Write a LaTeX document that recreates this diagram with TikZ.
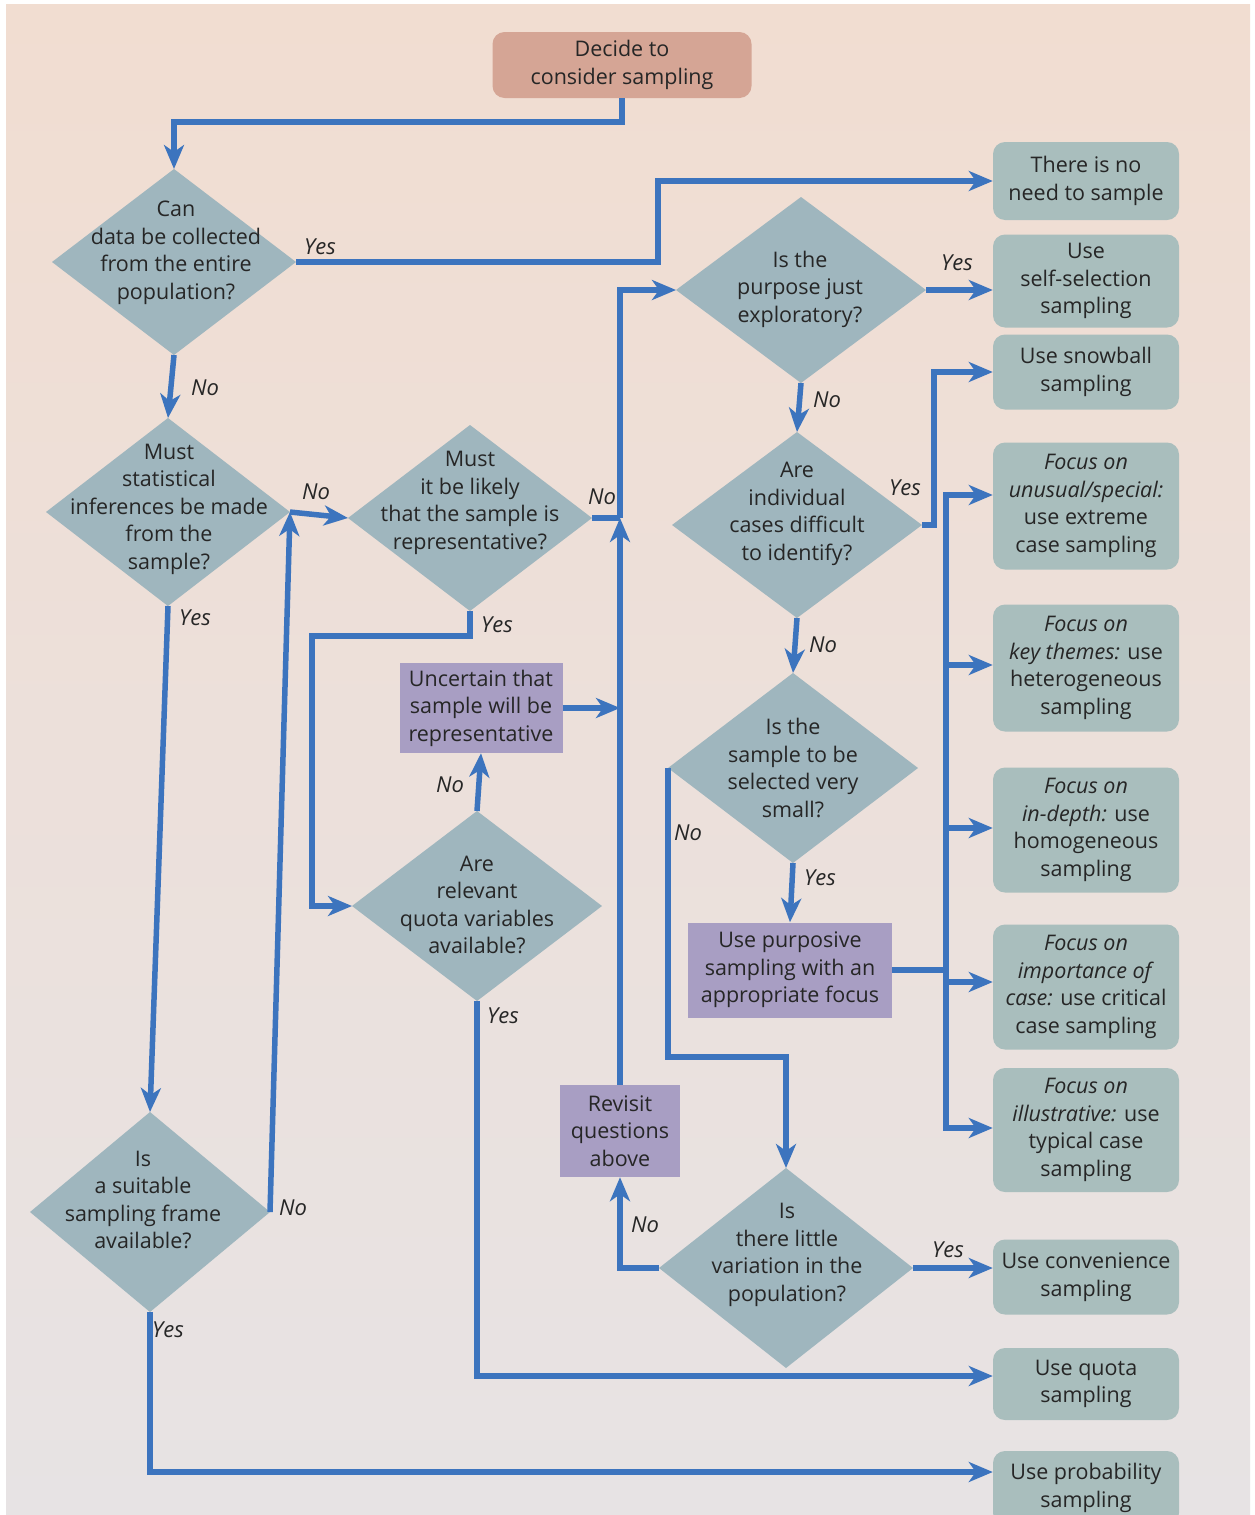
\documentclass[tikz,border=0pt]{standalone}
\usepackage{fontspec}
\setmainfont{Open Sans}
\usetikzlibrary{shapes.geometric,arrows.meta,calc}
\definecolor{bgtop}{HTML}{F1DDD1}
\definecolor{bgmid}{HTML}{EEDADC}
\definecolor{bgbot}{HTML}{E7E3E4}
\definecolor{diac}{HTML}{9FB6BE}
\definecolor{boxc}{HTML}{A9BEBD}
\definecolor{purc}{HTML}{A89EC3}
\definecolor{startc}{HTML}{D5A595}
\definecolor{linec}{HTML}{3C74BE}
\definecolor{txtc}{HTML}{262626}
\begin{document}
\begin{tikzpicture}[x=1pt,y=-1pt,
 txt/.style={font=\fontsize{21.5}{27.5}\selectfont, text=txtc, align=center, inner sep=0pt},
 lab/.style={font=\fontsize{22}{24}\selectfont\itshape, text=txtc, inner sep=0pt},
 dia/.style={shape=diamond, fill=diac, inner sep=0pt, outer sep=0pt},
 rbox/.style={txt, fill=boxc, rounded corners=12pt, minimum width=186pt},
 pbox/.style={txt, fill=purc},
 conn/.style={draw=linec, line width=5.5pt},
 arr/.style={conn, -{Stealth[length=24pt,width=20pt,inset=7pt]}},
]
\useasboundingbox (0,0) rectangle (1254,1515);
\clip (0,0) rectangle (1254,1515);
\fill[white] (0,0) rectangle (1254,1515);
\shade[top color=bgtop, middle color=bgmid, bottom color=bgbot] (6,4) rectangle (1250,1515);

% start
\node[txt, fill=startc, rounded corners=12pt, minimum width=259pt, minimum height=66pt] (start) at (622,65) {Decide to\\consider sampling};

% diamonds
\node[dia, minimum width=244pt, minimum height=186pt] (d1) at (174,262) {};
\node[txt] (d1t) at (176,253) {Can\\data be collected\\from the entire\\population?};
\node[dia, minimum width=244pt, minimum height=188pt] (d2) at (168,512) {};
\node[txt] (d2t) at (169,509) {Must\\statistical\\inferences be made\\from the\\sample?};
\node[dia, minimum width=244pt, minimum height=186pt] (d3) at (470,518) {};
\node[txt] (d3t) at (470,503) {Must\\it be likely\\that the sample is\\representative?};
\node[dia, minimum width=250pt, minimum height=190pt] (d4) at (477,906) {};
\node[txt] (d4t) at (477,905) {Are\\relevant\\quota variables\\available?};
\node[dia, minimum width=240pt, minimum height=200pt] (d5) at (150,1212) {};
\node[txt] (d5t) at (143,1200) {Is\\a suitable\\sampling frame\\available?};
\node[dia, minimum width=250pt, minimum height=186pt] (d6) at (801,290) {};
\node[txt] (d6t) at (800,289) {Is the\\purpose just\\exploratory?};
\node[dia, minimum width=250pt, minimum height=186pt] (d7) at (797,525) {};
\node[txt] (d7t) at (797,514) {Are\\individual\\cases difficult\\to identify?};
\node[dia, minimum width=250pt, minimum height=190pt] (d8) at (793,768) {};
\node[txt] (d8t) at (793,768) {Is the\\sample to be\\selected very\\small?};
\node[dia, minimum width=254pt, minimum height=200pt] (d9) at (786,1268) {};
\node[txt] (d9t) at (787,1255) {Is\\there little\\variation in the\\population?};

% purple boxes
\node[pbox, minimum width=163pt, minimum height=90pt] (unc) at (481,708) {Uncertain that\\sample will be\\representative};
\node[pbox, minimum width=120pt, minimum height=92pt] (rev) at (620,1131) {Revisit\\questions\\above};
\node[pbox, minimum width=204pt, minimum height=95pt] (purp) at (790,970) {Use purposive\\sampling with an\\appropriate focus};

% result boxes
\node[rbox, minimum height=78pt] (b1) at (1086,181) {There is no\\need to sample};
\node[rbox, minimum height=93pt] (b2) at (1086,281) {Use\\self-selection\\sampling};
\node[rbox, minimum height=75pt] (b3) at (1086,372) {Use snowball\\sampling};
\node[rbox, minimum height=127pt] (b4) at (1086,506) {\textit{Focus on}\\\textit{unusual/special:}\\use extreme\\case sampling};
\node[rbox, minimum height=127pt] (b5) at (1086,668) {\textit{Focus on}\\\textit{key themes:} use\\heterogeneous\\sampling};
\node[rbox, minimum height=125pt] (b6) at (1086,830) {\textit{Focus on}\\\textit{in-depth:} use\\homogeneous\\sampling};
\node[rbox, minimum height=125pt] (b7) at (1086,987) {\textit{Focus on}\\\textit{importance of}\\\textit{case:} use critical\\case sampling};
\node[rbox, minimum height=124pt] (b8) at (1086,1130) {\textit{Focus on}\\\textit{illustrative:} use\\typical case\\sampling};
\node[rbox, minimum height=75pt] (b9) at (1086,1277) {Use convenience\\sampling};
\node[rbox, minimum height=72pt] (b10) at (1086,1384) {Use quota\\sampling};
\node[rbox, minimum height=74pt] (b11) at (1086,1488) {Use probability\\sampling};

% helper coordinates
\coordinate (j1) at (620,518);
\coordinate (j3) at (658,181);
\coordinate (j4) at (312,636);
\coordinate (j6) at (934,0);
\coordinate (y1057) at (0,1057);
\coordinate (y1376) at (0,1376);
\coordinate (y1472) at (0,1472);
\coordinate (bt) at (946,495);
\coordinate (bus5) at (946,665);
\coordinate (bus6) at (946,828);
\coordinate (bus7) at (946,982);
\coordinate (bb) at (946,1128);

% connectors
\draw[arr] (start.south) -- ++(0,24) -| (d1.north);
\draw[arr] (d1.east) -| (j3) -- (b1.west);
\draw[arr] (d1.south) -- (d2.north);
\draw[arr] (d2.east) -- (d3.west);
\draw[arr] (d2.south) -- (d5.north);
\draw[arr] (d5.east) -- (d2.east);
\draw[conn] (d3.east) -- (j1);
\draw[arr] (rev.north) -- (j1);
\draw[arr] (j1) |- (d6.west);
\draw[arr] (unc.east) -- (unc.east -| j1);
\draw[arr] (d3.south) |- (j4) |- (d4.west);
\draw[arr] (d4.north) -- (unc.south);
\draw[arr] (d4.south) |- (b10.west |- y1376);
\draw[arr] (d5.south) |- (b11.west |- y1472);
\draw[arr] (d6.east) -- (b2.west |- d6.east);
\draw[arr] (d6.south) -- (d7.north);
\draw[arr] (d7.east) -- (d7.east -| j6) |- (b3.west);
\draw[arr] (d7.south) -- (d8.north);
\draw[arr] (d8.south) -- (purp.north);
\draw[arr] (d8.west) -- (d8.west |- y1057) -| (d9.north);
\draw[arr] (d9.east) -- (b9.west |- d9.east);
\draw[arr] (d9.west) -| (rev.south);
\draw[arr] (purp.east) -| (bt) -- (b4.west |- bt);
\draw[arr] (purp.east -| bt) |- (b8.west |- bb);
\draw[arr] (bus5) -- (b5.west |- bus5);
\draw[arr] (bus6) -- (b6.west |- bus6);
\draw[arr] (bus7) -- (b7.west |- bus7);

% labels
\node[lab] (l1) at (320,247) {Yes};
\node[lab] (l2) at (205,388) {No};
\node[lab] (l3) at (316,492) {No};
\node[lab] (l4) at (195,618) {Yes};
\node[lab] (l5) at (602,497) {No};
\node[lab] (l6) at (497,625) {Yes};
\node[lab] (l7) at (450,785) {No};
\node[lab] (l8) at (503,1016) {Yes};
\node[lab] (l9) at (293,1208) {No};
\node[lab] (l10) at (168,1330) {Yes};
\node[lab] (l11) at (957,263) {Yes};
\node[lab] (l12) at (827,400) {No};
\node[lab] (l13) at (905,488) {Yes};
\node[lab] (l14) at (823,645) {No};
\node[lab] (l15) at (688,833) {No};
\node[lab] (l16) at (820,878) {Yes};
\node[lab] (l17) at (645,1225) {No};
\node[lab] (l18) at (948,1250) {Yes};
\end{tikzpicture}
\end{document}
